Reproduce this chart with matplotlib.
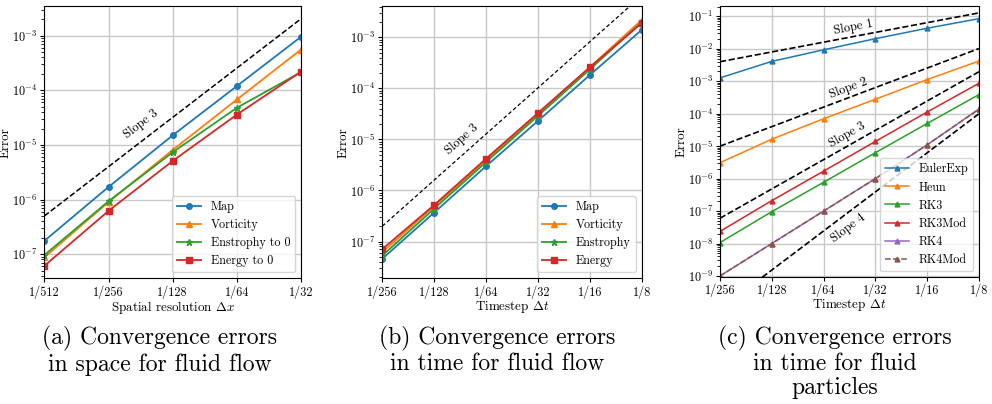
import matplotlib
import matplotlib.pyplot as plt
import numpy as np
from matplotlib.ticker import FixedLocator, NullLocator

plt.switch_backend("agg")

plt.rcParams["font.family"] = ["cmr10", "DejaVu Serif"]
plt.rcParams["mathtext.fontset"] = "cm"
plt.rcParams["axes.formatter.use_mathtext"] = True
plt.rcParams["axes.unicode_minus"] = True

# ---- data ----
DX_A = [1 / 512, 1 / 256, 1 / 128, 1 / 64, 1 / 32]
DX_A_LABELS = ["1/512", "1/256", "1/128", "1/64", "1/32"]
MAP_A = [1.75e-7, 1.7e-6, 1.5e-5, 1.2e-4, 9.6e-4]
VORT_A = [8.7e-8, 9.0e-7, 8.1e-6, 6.8e-5, 5.6e-4]
ENST_A = [9.6e-8, 9.3e-7, 7.35e-6, 4.8e-5, 2.16e-4]
ENERGY_A = [6.1e-8, 6.2e-7, 5.1e-6, 3.6e-5, 2.2e-4]
SLOPE_A_X = [1 / 512, 1 / 32]
SLOPE3_A = [5e-7, 2.05e-3]

DT = [1 / 256, 1 / 128, 1 / 64, 1 / 32, 1 / 16, 1 / 8]
DT_LABELS = ["1/256", "1/128", "1/64", "1/32", "1/16", "1/8"]
MAP_B = [4.6e-8, 3.7e-7, 3.0e-6, 2.3e-5, 1.83e-4, 1.4e-3]
VORT_B = [6.2e-8, 4.9e-7, 3.9e-6, 3.1e-5, 2.6e-4, 2.2e-3]
ENST_B = [5.3e-8, 4.4e-7, 3.6e-6, 2.9e-5, 2.35e-4, 2.0e-3]
ENERGY_B = [7.1e-8, 5.2e-7, 4.2e-6, 3.3e-5, 2.6e-4, 1.9e-3]
SLOPE_X = [1 / 256, 1 / 8]
SLOPE3_B = [2e-7, 6.55e-3]

EULER_C = [1.27e-3, 4.1e-3, 9.3e-3, 2.05e-2, 4.3e-2, 8.5e-2]
HEUN_C = [3.1e-6, 1.64e-5, 7.0e-5, 2.8e-4, 1.13e-3, 4.2e-3]
RK3_C = [1.07e-8, 9.6e-8, 7.7e-7, 6.3e-6, 5.0e-5, 3.9e-4]
RK3MOD_C = [2.36e-8, 2.1e-7, 1.7e-6, 1.4e-5, 1.13e-4, 8.7e-4]
RK4_C = [1.0e-9, 1.0e-8, 1.0e-7, 1.0e-6, 1.1e-5, 1.39e-4]
RK4MOD_C = [1.0e-9, 1.0e-8, 1.0e-7, 1.0e-6, 1.1e-5, 1.39e-4]
SLOPE1_C = [4e-3, 0.128]
SLOPE2_C = [1e-5, 1.02e-2]
SLOPE3_C = [6e-8, 1.97e-3]
SLOPE4_C = [9.5e-11, 1e-4]

C_BLUE, C_ORANGE, C_GREEN, C_RED, C_PURPLE, C_BROWN = (
    "#1f77b4", "#ff7f0e", "#2ca02c", "#d62728", "#9467bd", "#8c564b")

TICK_FS = 8.8
LABEL_FS = 9.4
LEGEND_FS = 8.7
CAPTION_FS = 17


def setup_axes(ax, xs, xlabels, ylim, xlabel):
    ax.set_xscale("log", base=2)
    ax.set_yscale("log")
    ax.set_xlim(xs[0], xs[-1])
    ax.set_ylim(*ylim)
    ax.xaxis.set_major_locator(FixedLocator(xs))
    ax.xaxis.set_minor_locator(NullLocator())
    ax.set_xticklabels(xlabels)
    ax.tick_params(labelsize=TICK_FS, pad=2, length=3)
    ax.tick_params(which="minor", length=2)
    ax.grid(True, which="major", color="#c8c8c8", linewidth=1.0)
    ax.set_axisbelow(True)
    ax.set_xlabel(xlabel, fontsize=LABEL_FS, labelpad=0)
    ax.set_ylabel("Error", fontsize=LABEL_FS)
    ax.yaxis.set_label_coords(-0.127, 0.5)
    for sp in ax.spines.values():
        sp.set_color("black")


def slope_text(ax, x, y, label, rot):
    ax.text(x, y, label, transform=ax.transAxes, rotation=rot,
            ha="center", va="center", fontsize=9)


def main():
    fig = plt.figure(figsize=(9.92, 4.04), dpi=100)
    ax_a = fig.add_axes([0.0447, 0.311, 0.2588, 0.674])
    ax_b = fig.add_axes([0.3854, 0.311, 0.2615, 0.674])
    ax_c = fig.add_axes([0.7258, 0.3144, 0.2611, 0.671])

    # (a) space convergence
    setup_axes(ax_a, DX_A, DX_A_LABELS, (3.6e-8, 3.5e-3), r"Spatial resolution $\Delta x$")
    ax_a.plot(SLOPE_A_X, SLOPE3_A, "k--", lw=1.1)
    ax_a.plot(DX_A, MAP_A, color=C_BLUE, marker="o", ms=4, lw=1.3, label="Map")
    ax_a.plot(DX_A, VORT_A, color=C_ORANGE, marker="^", ms=4, lw=1.3, label="Vorticity")
    ax_a.plot(DX_A, ENST_A, color=C_GREEN, marker="*", ms=4.5, lw=1.3, label="Enstrophy to 0")
    ax_a.plot(DX_A, ENERGY_A, color=C_RED, marker="s", ms=4, lw=1.3, label="Energy to 0")
    slope_text(ax_a, 0.376, 0.567, "Slope 3", 37.5)
    ax_a.legend(loc="lower right", fontsize=LEGEND_FS)

    # (b) time convergence, fluid
    setup_axes(ax_b, DT, DT_LABELS, (1.9e-8, 4.1e-3), r"Timestep $\Delta t$")
    ax_b.plot(SLOPE_X, SLOPE3_B, "k--", lw=0.9, dashes=(3, 2))
    ax_b.plot(DT, MAP_B, color=C_BLUE, marker="o", ms=4, lw=1.3, label="Map")
    ax_b.plot(DT, VORT_B, color=C_ORANGE, marker="^", ms=4, lw=1.3, label="Vorticity")
    ax_b.plot(DT, ENST_B, color=C_GREEN, marker="*", ms=4.5, lw=1.3, label="Enstrophy")
    ax_b.plot(DT, ENERGY_B, color=C_RED, marker="s", ms=4, lw=1.3, label="Energy")
    slope_text(ax_b, 0.308, 0.512, "Slope 3", 41.5)
    ax_b.legend(loc="lower right", fontsize=LEGEND_FS)

    # (c) time convergence, particles
    setup_axes(ax_c, DT, DT_LABELS, (9.3e-10, 0.21), r"Timestep $\Delta t$")
    for sl in (SLOPE1_C, SLOPE2_C, SLOPE3_C, SLOPE4_C):
        ax_c.plot(SLOPE_X, sl, "k--", lw=1.2)
    ax_c.plot(DT, EULER_C, color=C_BLUE, marker="^", ms=3.5, lw=1.1, label="EulerExp")
    ax_c.plot(DT, HEUN_C, color=C_ORANGE, marker="^", ms=3.5, lw=1.1, label="Heun")
    ax_c.plot(DT, RK3_C, color=C_GREEN, marker="^", ms=3.5, lw=1.1, label="RK3")
    ax_c.plot(DT, RK3MOD_C, color=C_RED, marker="^", ms=3.5, lw=1.1, label="RK3Mod")
    ax_c.plot(DT, RK4_C, color=C_PURPLE, marker="^", ms=3.5, lw=1.1, label="RK4")
    ax_c.plot(DT, RK4MOD_C, color=C_BROWN, marker="^", ms=3.5, lw=1.1, ls="--", label="RK4Mod")
    slope_text(ax_c, 0.514, 0.919, "Slope 1", 10.7)
    slope_text(ax_c, 0.494, 0.697, "Slope 2", 20.6)
    slope_text(ax_c, 0.490, 0.524, "Slope 3", 29.6)
    slope_text(ax_c, 0.494, 0.181, "Slope 4", 37.0)
    ax_c.legend(loc="lower right", fontsize=LEGEND_FS)

    captions = [
        (160, "(a) Convergence errors\nin space for fluid flow"),
        (497, "(b) Convergence errors\nin time for fluid flow"),
        (835, "(c) Convergence errors\nin time for fluid\nparticles"),
    ]
    for cx, txt in captions:
        fig.text(cx / 992, 1 - 326 / 404, txt, ha="center", va="top",
                 multialignment="center", fontsize=CAPTION_FS, linespacing=1.12)

    fig.savefig("out.png", dpi=100)
    plt.close(fig)


if __name__ == "__main__":
    main()
